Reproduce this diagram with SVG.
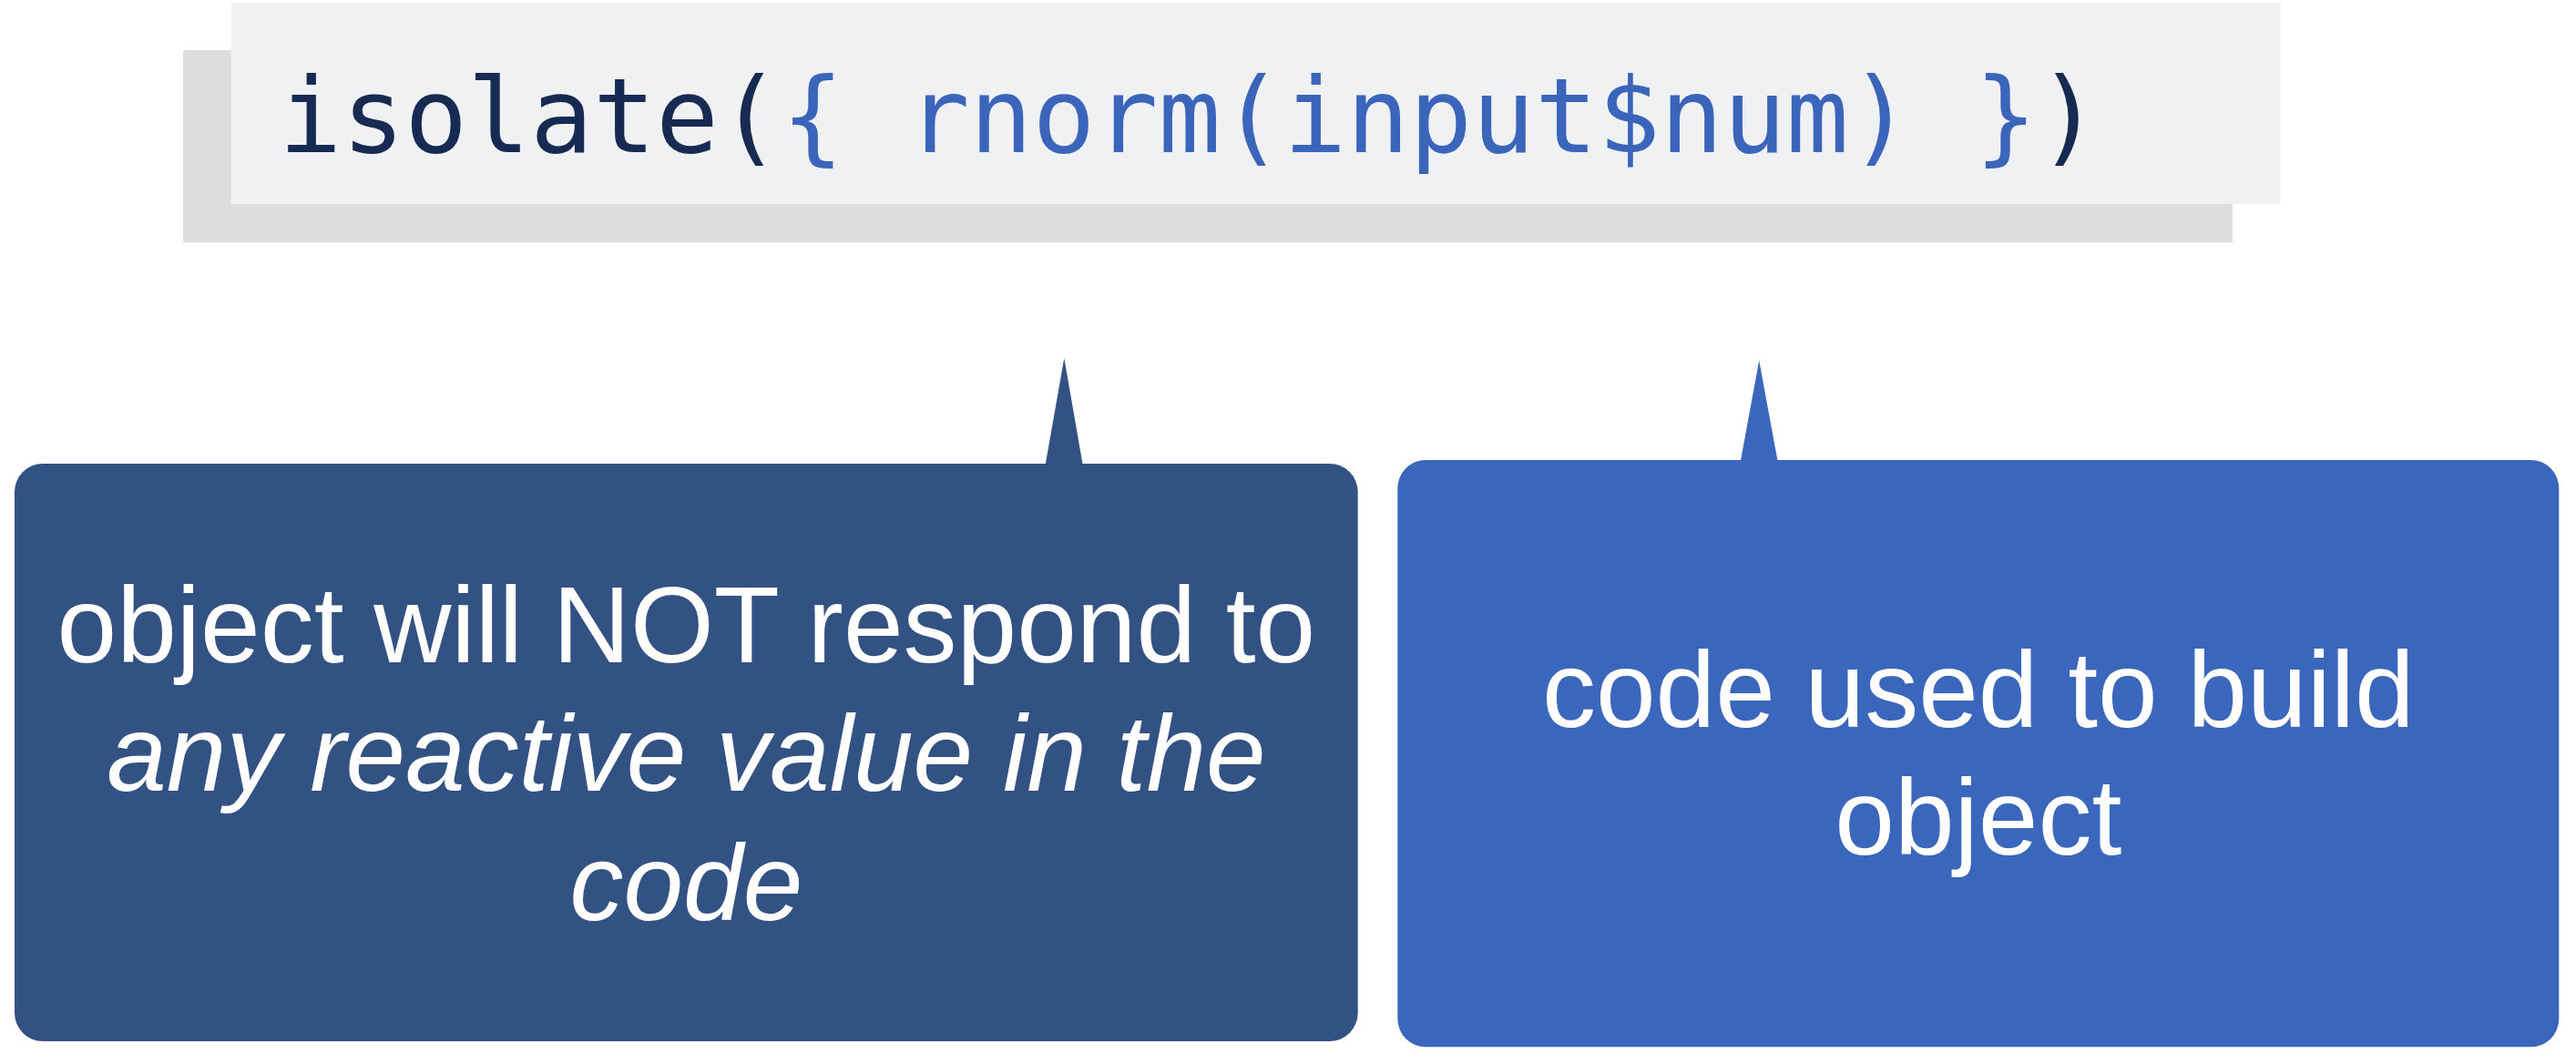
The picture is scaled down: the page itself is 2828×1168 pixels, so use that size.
<svg xmlns="http://www.w3.org/2000/svg" width="2828" height="1168" viewBox="0 0 2828 1168">
  <style>
    .code { font-family: "DejaVu Sans Mono", "Liberation Mono", monospace; font-size: 114.5px; }
    .fn { fill: #172A52; }
    .arg { fill: #3A65BB; }
    .label { font-family: "Liberation Sans", Arial, sans-serif; font-size: 118px; fill: #FFFFFF; text-anchor: middle; }
    .em { font-style: italic; }
    .dark { fill: #335284; }
    .blue { fill: #3A66BC; }
  </style>

  <!-- code snippet panel with offset shadow -->
  <g id="code-box">
    <rect x="201" y="55" width="2250" height="211" fill="#DCDDDF"/>
    <rect x="253.5" y="3" width="2250" height="221" fill="#F0F1F3"/>
    <text class="code" x="306.3" y="166.7" xml:space="preserve"><tspan class="fn">isolate(</tspan><tspan class="arg">{ rnorm(input$num) }</tspan><tspan class="fn">)</tspan></text>
  </g>

  <!-- callout pointers -->
  <g id="connectors">
    <polygon class="dark" points="1147.3,512 1168.3,393.3 1189,512"/>
    <polygon class="blue" points="1910.5,508 1931.2,395.7 1951.9,508"/>
  </g>

  <!-- note on the isolate() wrapper -->
  <g id="note-isolate">
    <rect class="dark" x="16" y="509" width="1474.7" height="634" rx="31" ry="31"/>
    <text class="label" x="753.4" y="726.7">object will NOT respond to</text>
    <text class="label em" x="753.4" y="868.3">any reactive value in the</text>
    <text class="label em" x="753.4" y="1010">code</text>
  </g>

  <!-- note on the wrapped expression -->
  <g id="note-code">
    <rect class="blue" x="1534.3" y="505" width="1275" height="644.3" rx="31" ry="31"/>
    <text class="label" x="2171.8" y="797.7">code used to build</text>
    <text class="label" x="2171.8" y="937.7">object</text>
  </g>
</svg>
